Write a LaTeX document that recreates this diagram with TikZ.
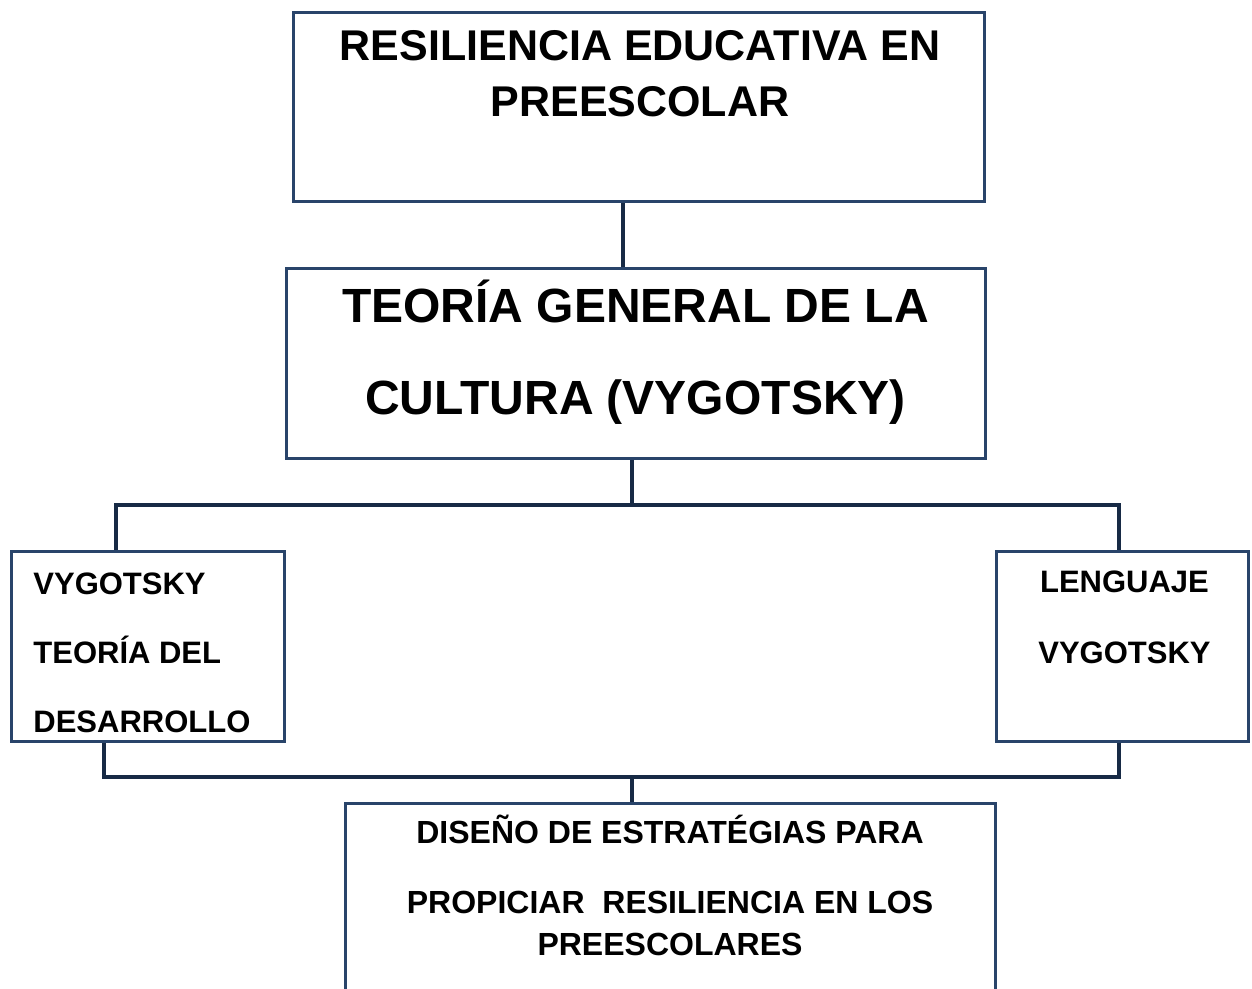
\documentclass[tikz,border=0pt]{standalone}
\usepackage{fontspec}
\setmainfont{Liberation Sans}
\usepackage{tikz}
\usetikzlibrary{positioning}
\definecolor{marco}{HTML}{29446A}
\definecolor{enlace}{HTML}{172A45}
\newcommand{\fsize}[2]{\fontsize{#1}{#2}\selectfont\bfseries}

\begin{document}
\begin{tikzpicture}[x=0.5pt, y=-0.5pt,
		caja/.style={draw=marco, line width=1.8pt, inner sep=0pt, fill=none},
		texto/.style={anchor=base, align=center, inner sep=0pt},
		linea/.style={draw=enlace, line width=1.8pt}]
		\clip (0,0) rectangle (1252,989);
		%cajas
		\node[caja, minimum width=345.5pt, minimum height=94.5pt] (resiliencia) at (639,107) {};
		\node[caja, minimum width=349.5pt, minimum height=95pt] (teoria) at (636,363.5) {};
		\node[caja, minimum width=136.5pt, minimum height=95pt] (desarrollo) at (148,646.5) {};
		\node[caja, minimum width=126pt, minimum height=95pt] (lenguaje) at (1122.5,646.5) {};
		\node[caja, minimum width=325pt, minimum height=140pt, anchor=north] (diseno) at (670.5,801.5) {};
		%textos (base = ultima linea)
		\node[texto, font=\fsize{21.5}{28}] (tResiliencia) at (640,117)
			{RESILIENCIA EDUCATIVA EN\\PREESCOLAR};
		\node[texto, font=\fsize{24}{46}] (tTeoria) at (635.5,415)
			{TEORÍA GENERAL DE LA\\CULTURA (VYGOTSKY)};
		\node[texto, align=left, anchor=base west, font=\fsize{15.5}{34.5}] (tDesarrollo) at (33,732)
			{VYGOTSKY\\TEORÍA DEL\\DESARROLLO};
		\node[texto, font=\fsize{15.5}{35.5}] (tLenguaje) at (1124.5,663)
			{LENGUAJE\\VYGOTSKY};
		\node[texto, font=\fsize{16}{21}] (tDiseno) at (670,955)
			{DISEÑO DE ESTRATÉGIAS PARA\\[14pt]PROPICIAR\ \ RESILIENCIA EN LOS\\PREESCOLARES};
		%conectores
		\coordinate (bus1) at (632,505);
		\coordinate (bus2) at (632,777);
		\draw[linea] ([xshift=-8pt]resiliencia.south) -- ([xshift=-6.5pt]teoria.north);
		\draw[linea] ([xshift=-2pt]teoria.south) -- (bus1);
		\draw[linea] ([xshift=-16pt]desarrollo.north) |- (bus1) -| ([xshift=-1.75pt]lenguaje.north);
		\draw[linea] ([xshift=-22pt]desarrollo.south) |- (bus2) -| ([xshift=-1.75pt]lenguaje.south);
		\draw[linea] (bus2) -- ([xshift=-19.25pt]diseno.north);
	\end{tikzpicture}
\end{document}
